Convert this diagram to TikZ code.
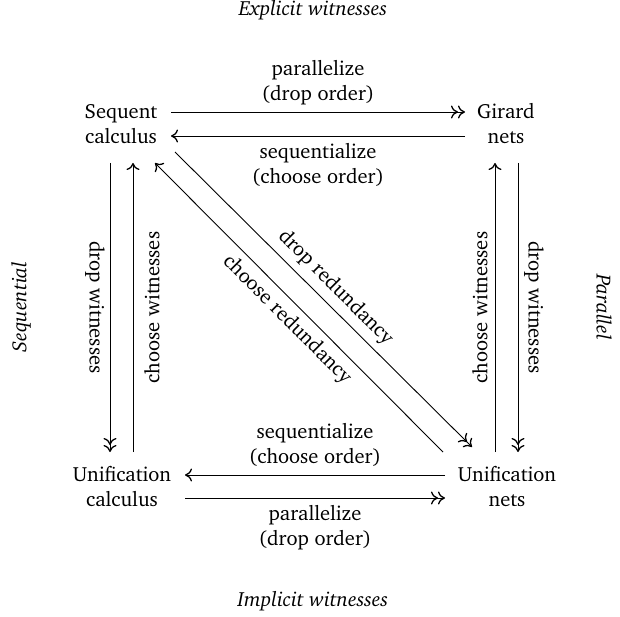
\documentclass[tikz,border=0pt]{standalone}
\usepackage[T1]{fontenc}
\usepackage{charter}
\usetikzlibrary{arrows.meta,calc}
\begin{document}
\begin{tikzpicture}[x=1pt,y=-1pt,
  every node/.style={font=\fontsize{20.5}{25}\selectfont, inner sep=0pt, align=center},
  line width=0.9pt,
  single/.style={-{To[length=7pt,width=13pt,line width=1.3pt]}},
  dbl/.style={-{To[length=7pt,width=13pt,line width=1.3pt]To[length=7pt,width=13pt,line width=1.3pt]}},
  lbl/.style={midway}]
\useasboundingbox (0,0) rectangle (620,617);
\node (sc) at (121,124) {Sequent\\calculus};
\node (gn) at (506,124) {Girard\\nets};
\node (uc) at (122,487) {Unification\\calculus};
\node (un) at (507,487) {Unification\\nets};
% top
\draw[dbl] ($(sc.center)+(50,-12)$) -- node[lbl, above=7pt] {parallelize\\(drop order)} ($(gn.center)+(-41,-12)$);
\draw[single] ($(gn.center)+(-41,12)$) -- node[lbl, below=7pt] {sequentialize\\(choose order)} ($(sc.center)+(50,12)$);
% bottom
\draw[single] ($(un.center)+(-62,-12)$) -- node[lbl, above=8pt] {sequentialize\\(choose order)} ($(uc.center)+(63,-12)$);
\draw[dbl] ($(uc.center)+(63,11)$) -- node[lbl, below=7pt] {parallelize\\(drop order)} ($(un.center)+(-62,11)$);
% left
\draw[dbl] ($(sc.center)+(-11,39)$) -- node[lbl, xshift=-15pt, rotate=-90] {drop witnesses} ($(uc.center)+(-12,-35)$);
\draw[single] ($(uc.center)+(11,-35)$) -- node[lbl, xshift=19pt, rotate=90] {choose witnesses} ($(sc.center)+(12,39)$);
% right
\draw[single] ($(un.center)+(-12,-35)$) -- node[lbl, xshift=-15pt, rotate=90] {choose witnesses} ($(gn.center)+(-11,39)$);
\draw[dbl] ($(gn.center)+(12,39)$) -- node[lbl, xshift=16pt, rotate=-90] {drop witnesses} ($(un.center)+(11,-35)$);
% diagonals
\draw[dbl] ($(sc.center)+(54,28)$) coordinate (d1) -- ($(un.center)+(-35,-40)$) coordinate (d2);
\node[rotate=-45] (dr) at ($($(d1)!0.5!(d2)$)+(12,-12)$) {drop redundancy};
\draw[single] ($(un.center)+(-64,-35)$) coordinate (c1) -- ($(sc.center)+(34,39)$) coordinate (c2);
\node[rotate=-45] (cr) at ($($(c1)!0.5!(c2)$)+(-12,12)$) {choose redundancy};
% side labels
\node[font=\fontsize{20.5}{25}\selectfont\itshape] (ew) at (313,10) {Explicit witnesses};
\node[font=\fontsize{20.5}{25}\selectfont\itshape] (iw) at (313,601) {Implicit witnesses};
\node[font=\fontsize{20.5}{25}\selectfont\itshape, rotate=90] (sq) at (21,307) {Sequential};
\node[font=\fontsize{20.5}{25}\selectfont\itshape, rotate=-90] (pl) at (604,307) {Parallel};
\end{tikzpicture}
\end{document}
